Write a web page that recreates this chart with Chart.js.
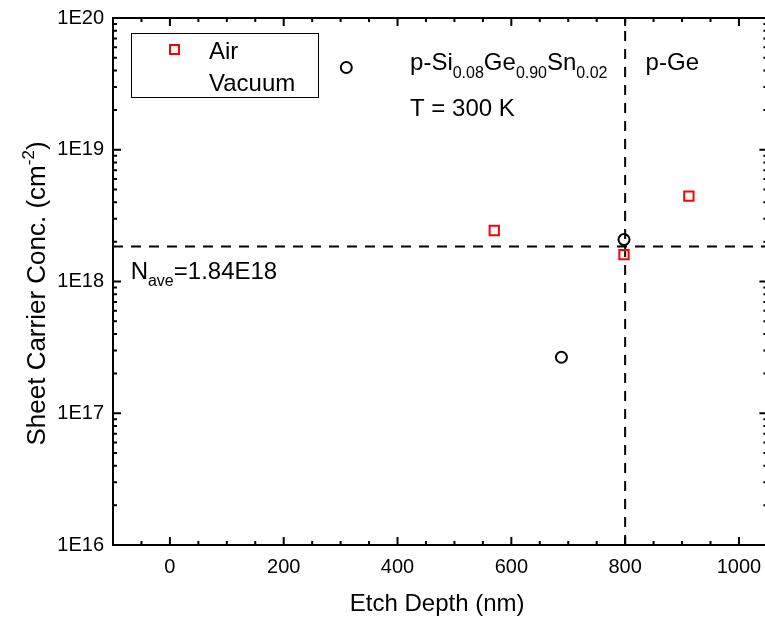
<!DOCTYPE html>
<html>
<head>
<meta charset="utf-8">
<script src="https://cdn.jsdelivr.net/npm/chart.js@4.4.1/dist/chart.umd.min.js"></script>
<style>
  html, body { margin: 0; padding: 0; background: #fff; overflow: hidden; }
  #wrap { width: 765px; height: 620px; overflow: hidden; position: relative; }
  #chart { position: absolute; left: 0; top: 0; }
</style>
</head>
<body>
<div id="wrap"><canvas id="chart" width="776" height="620"></canvas></div>
<script>
// data
const airDepth = [570, 798, 912];
const airConc = [2.44e18, 1.60e18, 4.44e18];
const vacDepth = [310, 688, 798];
const vacConc = [4.21e19, 2.66e17, 2.08e18];
const nAve = 1.84e18;
const interfaceDepth = 800;

const xTicks = [0, 200, 400, 600, 800, 1000];
const yTicks = [1e16, 1e17, 1e18, 1e19, 1e20];
const yTickLabels = ['1E16', '1E17', '1E18', '1E19', '1E20'];

const FONT = '"Liberation Sans", Arial, Helvetica, sans-serif';

// text with sub/superscripts: parts = [[text, kind]] kind: 'n' | 'sub' | 'sup'
function drawRich(ctx, parts, x, y, size) {
  let cx = x;
  parts.forEach(([t, kind]) => {
    const s = kind === 'n' ? size : Math.round(size * 0.66);
    const dy = kind === 'sub' ? size * 0.3 : kind === 'sup' ? -size * 0.42 : 0;
    ctx.font = s + 'px ' + FONT;
    ctx.fillText(t, cx, y + dy);
    cx += ctx.measureText(t).width;
  });
  return cx - x;
}
function richWidth(ctx, parts, size) {
  let w = 0;
  parts.forEach(([t, kind]) => {
    const s = kind === 'n' ? size : Math.round(size * 0.66);
    ctx.font = s + 'px ' + FONT;
    w += ctx.measureText(t).width;
  });
  return w;
}

function noPad(s) {
  s.paddingLeft = 0; s.paddingRight = 0; s.paddingTop = 0; s.paddingBottom = 0;
}

const framePlugin = {
  id: 'frame',
  afterDatasetsDraw(chart) {
    const { ctx, chartArea: a, scales: { x, y } } = chart;
    ctx.save();
    ctx.strokeStyle = '#000';
    ctx.fillStyle = '#000';
    ctx.lineWidth = 2;
    ctx.strokeRect(a.left, a.top, a.right - a.left, a.bottom - a.top);

    // inward ticks, mirrored on all sides
    ctx.beginPath();
    for (let v = -50; v <= 1050; v += 50) {
      const px = x.getPixelForValue(v);
      if (px < a.left + 1 || px > a.right - 1) continue;
      const len = xTicks.includes(v) ? 8 : 4;
      ctx.moveTo(px, a.bottom); ctx.lineTo(px, a.bottom - len);
      ctx.moveTo(px, a.top); ctx.lineTo(px, a.top + len);
    }
    for (let d = 16; d < 20; d++) {
      for (let m = 1; m <= 9; m++) {
        const py = y.getPixelForValue(m * Math.pow(10, d));
        const len = m === 1 ? 8 : 4;
        ctx.moveTo(a.left, py); ctx.lineTo(a.left + len, py);
        ctx.moveTo(a.right, py); ctx.lineTo(a.right - len, py);
      }
    }
    ctx.stroke();

    // legend box
    const lx = a.left + 18, ly = a.top + 15, lw = 187, lh = 64;
    ctx.lineWidth = 1;
    ctx.strokeRect(lx + 0.5, ly + 0.5, lw, lh);
    ctx.strokeStyle = '#ff0000';
    ctx.lineWidth = 2;
    ctx.strokeRect(lx + 39, ly + 12, 9, 9);
    ctx.font = '24px ' + FONT;
    ctx.textAlign = 'left';
    ctx.textBaseline = 'alphabetic';
    ctx.fillText('Air', lx + 78, ly + 26);
    ctx.fillText('Vacuum', lx + 78, ly + 58);

    // annotations, anchored in data coordinates
    const sz = 24;
    drawRich(ctx, [['p-Si', 'n'], ['0.08', 'sub'], ['Ge', 'n'], ['0.90', 'sub'], ['Sn', 'n'], ['0.02', 'sub']],
      x.getPixelForValue(422), y.getPixelForValue(4.0e19), sz);
    drawRich(ctx, [['p-Ge', 'n']], x.getPixelForValue(836), y.getPixelForValue(4.0e19), sz);
    drawRich(ctx, [['T = 300 K', 'n']], x.getPixelForValue(422), y.getPixelForValue(1.79e19), sz);
    drawRich(ctx, [['N', 'n'], ['ave', 'sub'], ['=1.84E18', 'n']],
      x.getPixelForValue(-69), y.getPixelForValue(1.05e18), sz);

    // axis titles
    ctx.font = '24px ' + FONT;
    ctx.textAlign = 'center';
    ctx.fillText('Etch Depth (nm)', (a.left + a.right) / 2 - 3, 611);
    const yt = [['Sheet Carrier Conc. (cm', 'n'], ['-2', 'sup'], [')', 'n']];
    ctx.textAlign = 'left';
    const w = richWidth(ctx, yt, 26);
    ctx.translate(45, (a.top + a.bottom) / 2 + 12);
    ctx.rotate(-Math.PI / 2);
    drawRich(ctx, yt, -w / 2, 0, 26);
    ctx.restore();
  }
};

new Chart(document.getElementById('chart'), {
  type: 'scatter',
  data: {
    datasets: [
      {
        label: 'Air',
        data: airDepth.map((d, i) => ({ x: d, y: airConc[i] })),
        pointStyle: 'rect',
        pointRadius: 6.6,
        borderColor: '#ff0000',
        backgroundColor: 'rgba(0,0,0,0)',
        borderWidth: 2
      },
      {
        label: 'Vacuum',
        data: vacDepth.map((d, i) => ({ x: d, y: vacConc[i] })),
        pointStyle: 'circle',
        pointRadius: 5.5,
        borderColor: '#000',
        backgroundColor: 'rgba(0,0,0,0)',
        borderWidth: 2
      },
      {
        label: 'Nave',
        data: [{ x: -100, y: nAve }, { x: 1050, y: nAve }],
        showLine: true,
        pointRadius: 0,
        borderColor: '#000',
        borderWidth: 2,
        borderDash: [10, 8]
      },
      {
        label: 'interface',
        data: [{ x: interfaceDepth, y: 1e16 }, { x: interfaceDepth, y: 1e20 }],
        showLine: true,
        pointRadius: 0,
        borderColor: '#000',
        borderWidth: 2,
        borderDash: [10, 8]
      }
    ]
  },
  options: {
    responsive: false,
    animation: false,
    layout: { padding: { top: 18, right: 3, left: 0, bottom: 0 } },
    plugins: { legend: { display: false }, tooltip: { enabled: false } },
    scales: {
      x: {
        type: 'linear',
        min: -100,
        max: 1050,
        grid: { display: false, drawTicks: false },
        border: { display: false },
        afterBuildTicks: s => { s.ticks = xTicks.map(v => ({ value: v })); },
        afterFit: s => { s.height = 75; noPad(s); },
        ticks: { color: '#000', font: { family: FONT, size: 20 }, padding: 10, maxRotation: 0,
          callback: v => String(v) }
      },
      y: {
        type: 'logarithmic',
        min: 1e16,
        max: 1e20,
        grid: { display: false, drawTicks: false },
        border: { display: false },
        afterBuildTicks: s => { s.ticks = yTicks.map(v => ({ value: v })); },
        afterFit: s => { s.width = 113; noPad(s); },
        ticks: {
          color: '#000',
          font: { family: FONT, size: 20 },
          padding: 9,
          callback: v => yTickLabels[yTicks.indexOf(v)] ?? ''
        }
      }
    }
  },
  plugins: [framePlugin]
});
</script>
</body>
</html>
